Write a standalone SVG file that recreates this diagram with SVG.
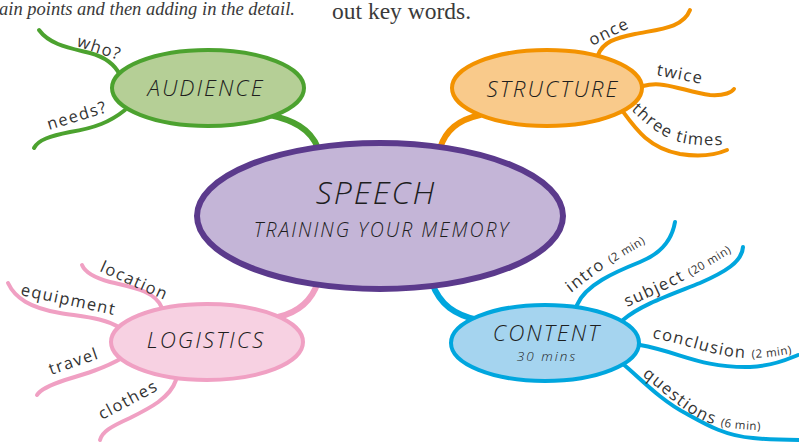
<svg xmlns="http://www.w3.org/2000/svg" width="799" height="444" viewBox="0 0 799 444">
<style>
.hdr{font-family:"Liberation Serif","Times New Roman",serif;fill:#3a3a3a}
.node{font-family:"Open Sans","Lato",sans-serif;font-style:italic;font-weight:300;fill:#1e1e1e;text-anchor:middle;letter-spacing:2px}
.lbl{font-family:"Open Sans","Lato",sans-serif;font-weight:400;fill:#333333;font-size:16.5px;letter-spacing:1.4px}
.sm{font-size:11.5px;letter-spacing:0.6px}
.c{fill:none;stroke-linecap:round}
.g{stroke:#4ca22f}.o{stroke:#f39200}.p{stroke:#f0a0c3}.b{stroke:#00a6de}
.main{stroke-width:6}.br{stroke-width:4}
</style>
<defs>
<path id="tp-three" d="M631,110 C643,121 656,134 676,141 C692,146 710,146 732,144"/>
<path id="tp-intro" d="M571,293 C589,279 604,267 624,256 C634,250 641,246 654,237"/>
<path id="tp-subject" d="M627,307 C650,297 670,288 690,277 C705,268 720,260 740,246"/>
<path id="tp-concl" d="M652,338 C690,345 715,357 745,358 C765,358 780,356 799,352"/>
<path id="tp-quest" d="M642,376 C661,389 684,414 710,423 C725,428 740,430 762,430"/>
</defs>
<rect width="799" height="444" fill="#ffffff"/>
<text class="hdr" x="-1" y="15" font-size="18.5" font-style="italic">ain points and then adding in the detail.</text>
<text class="hdr" x="332" y="19" font-size="23.5">out key words.</text>
<g id="connectors">
<path class="c g main" d="M270,115 C292,120 310,128 318,148"/>
<path class="c o main" d="M480,115 C458,120 446,130 440,148"/>
<path class="c p main" d="M278,317 C300,312 312,300 318,282"/>
<path class="c b main" d="M478,320 C455,315 440,305 432,283"/>
<path class="c g br" d="M39,30 C50,45 70,48 90,53 C105,57 115,65 120,75"/>
<path class="c g br" d="M125,110 C110,122 95,128 70,132 C50,136 38,140 34,148"/>
<path class="c o br" d="M598,55 C603,42 615,38 635,34 C660,29 683,28 690,10"/>
<path class="c o br" d="M643,86 C665,80 685,92 710,95 C725,96 732,92 734,89"/>
<path class="c o br" d="M621,109 C635,128 648,148 680,154 C705,158 720,153 727,150"/>
<path class="c p br" d="M162,308 C155,290 130,287 110,282 C95,278 85,272 82,265"/>
<path class="c p br" d="M8,283 C15,298 30,308 60,313 C85,317 105,318 120,328"/>
<path class="c p br" d="M122,358 C105,368 85,374 65,380 C50,385 40,390 37,395"/>
<path class="c p br" d="M176,380 C170,398 150,408 130,418 C110,427 102,432 100,440"/>
<path class="c b br" d="M577,305 C585,285 615,272 640,262 C660,254 672,240 675,222"/>
<path class="c b br" d="M623,320 C640,305 670,295 700,283 C725,272 742,262 743,247"/>
<path class="c b br" d="M640,345 C680,352 700,368 750,367 C775,366 790,358 798,355"/>
<path class="c b br" d="M623,364 C640,378 660,400 687,414 C705,424 725,436 753,438 C770,440 785,440 799,440"/>
</g>
<g id="speech">
<ellipse cx="380" cy="216" rx="183" ry="73" fill="#c4b5d7" stroke="#5b3a8c" stroke-width="6"/>
<text class="node" x="376" y="204" font-size="32" letter-spacing="2.5">SPEECH</text>
<text class="node" x="382" y="237" font-size="19.5" letter-spacing="2.6">TRAINING YOUR MEMORY</text>
</g>
<g id="audience">
<ellipse cx="208" cy="88" rx="96" ry="38" fill="#b5cf96" stroke="#4ca22f" stroke-width="4"/>
<text class="node" x="206" y="96" font-size="22.5" letter-spacing="2.6">AUDIENCE</text>
<text class="lbl" transform="translate(76,46) rotate(18)">who?</text>
<text class="lbl" transform="translate(49,130) rotate(-17)">needs?</text>
</g>
<g id="structure">
<ellipse cx="547" cy="88" rx="95" ry="38" fill="#f9ca8b" stroke="#f39200" stroke-width="4"/>
<text class="node" x="553" y="97" font-size="22.5" letter-spacing="2.2">STRUCTURE</text>
<text class="lbl" transform="translate(592,46) rotate(-26)">once</text>
<text class="lbl" transform="translate(656,75) rotate(11)">twice</text>
<text class="lbl"><textPath href="#tp-three">three times</textPath></text>
</g>
<g id="logistics">
<ellipse cx="207" cy="342" rx="96" ry="38" fill="#f7d1e2" stroke="#f0a0c3" stroke-width="4"/>
<text class="node" x="206" y="348" font-size="22.5" letter-spacing="2.4">LOGISTICS</text>
<text class="lbl" transform="translate(99,271) rotate(24)">location</text>
<text class="lbl" transform="translate(20,295) rotate(12)">equipment</text>
<text class="lbl" transform="translate(51,375) rotate(-19)">travel</text>
<text class="lbl" transform="translate(102,420) rotate(-28)">clothes</text>
</g>
<g id="content">
<ellipse cx="545" cy="343" rx="94" ry="38" fill="#a5d4ef" stroke="#00a6de" stroke-width="4"/>
<text class="node" x="547" y="341" font-size="22.5" letter-spacing="2.2">CONTENT</text>
<text class="node" x="547" y="361" font-size="13.5" letter-spacing="1.2">30 mins</text>
<text class="lbl"><textPath href="#tp-intro">intro <tspan class="sm">(2 min)</tspan></textPath></text>
<text class="lbl"><textPath href="#tp-subject">subject <tspan class="sm">(20 min)</tspan></textPath></text>
<text class="lbl"><textPath href="#tp-concl">conclusion <tspan class="sm">(2 min)</tspan></textPath></text>
<text class="lbl" font-size="15.5" letter-spacing="1.1"><textPath href="#tp-quest">questions <tspan class="sm">(6 min)</tspan></textPath></text>
</g>
</svg>
